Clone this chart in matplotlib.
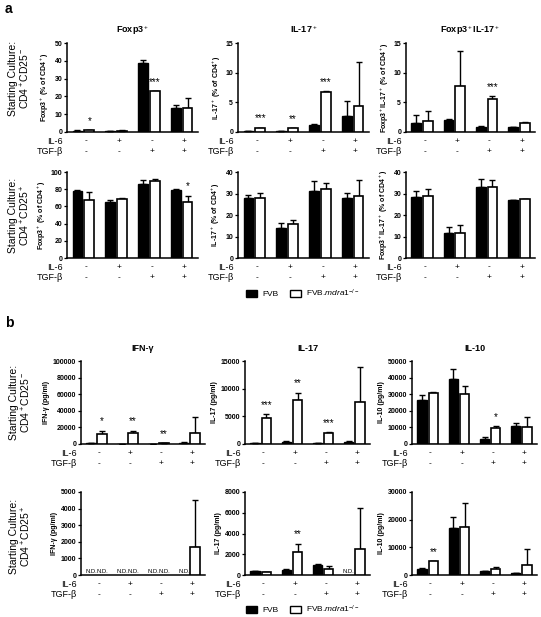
import numpy as np
import matplotlib
matplotlib.use("Agg")
import matplotlib.pyplot as plt
from matplotlib.patches import Patch

plt.rcParams["font.family"] = ["Liberation Sans", "DejaVu Sans"]
plt.rcParams["mathtext.fontset"] = "custom"
plt.rcParams["mathtext.rm"] = "Liberation Sans"
plt.rcParams["mathtext.it"] = "Liberation Sans:italic"
plt.rcParams["mathtext.bf"] = "Liberation Sans:bold"

nan = np.nan

# -------------------------
# Conditions
# -------------------------
il6 = ["-", "+", "-", "+"]
tgfb = ["-", "-", "+", "+"]

# -------------------------
# Panel a, CD4+CD25- start
# -------------------------
foxp3_neg_fvb = [0.8, 0.6, 39.0, 13.3]
foxp3_neg_fvb_err = [0.1, 0.1, 1.5, 2.1]
foxp3_neg_ko = [1.0, 0.8, 23.0, 13.5]
foxp3_neg_ko_err = [0.1, 0.1, 0.1, 5.6]

il17_neg_fvb = [0.15, 0.15, 1.2, 2.7]
il17_neg_fvb_err = [0.02, 0.02, 0.2, 2.5]
il17_neg_ko = [0.7, 0.6, 6.8, 4.4]
il17_neg_ko_err = [0.05, 0.05, 0.05, 7.4]

dp_neg_fvb = [1.5, 2.1, 0.8, 0.8]
dp_neg_fvb_err = [1.3, 0.1, 0.25, 0.05]
dp_neg_ko = [1.8, 7.8, 5.5, 1.6]
dp_neg_ko_err = [1.7, 5.9, 0.5, 0.05]

# -------------------------
# Panel a, CD4+CD25+ start
# -------------------------
foxp3_pos_fvb = [78.0, 64.7, 86.0, 79.0]
foxp3_pos_fvb_err = [1.5, 2.3, 5.0, 1.0]
foxp3_pos_ko = [68.0, 69.0, 90.0, 65.0]
foxp3_pos_ko_err = [8.7, 0.3, 1.5, 7.5]

il17_pos_fvb = [27.7, 14.1, 31.2, 28.0]
il17_pos_fvb_err = [1.7, 2.0, 4.5, 2.4]
il17_pos_ko = [28.0, 15.7, 31.9, 28.9]
il17_pos_ko_err = [2.3, 2.1, 3.2, 7.3]

dp_pos_fvb = [28.5, 11.5, 33.0, 27.2]
dp_pos_fvb_err = [2.5, 2.8, 3.6, 0.0]
dp_pos_ko = [28.9, 11.8, 32.8, 27.4]
dp_pos_ko_err = [3.1, 3.6, 3.4, 0.0]

# -------------------------
# Panel b, CD4+CD25- start (pg/ml)
# -------------------------
ifng_neg_fvb = [1500, 500, 500, 1500]
ifng_neg_fvb_err = [300, 100, 100, 500]
ifng_neg_ko = [12000, 13200, 1200, 13000]
ifng_neg_ko_err = [4000, 2800, 300, 20000]

il17c_neg_fvb = [200, 400, 200, 400]
il17c_neg_fvb_err = [50, 100, 50, 100]
il17c_neg_ko = [4700, 7950, 2050, 7520]
il17c_neg_ko_err = [700, 1350, 150, 6320]

il10_neg_fvb = [26800, 39300, 3000, 10700]
il10_neg_fvb_err = [3000, 6100, 1400, 1800]
il10_neg_ko = [30800, 30200, 9900, 10000]
il10_neg_ko_err = [300, 4800, 800, 6100]

# -------------------------
# Panel b, CD4+CD25+ start (pg/ml), nan = N.D.
# -------------------------
ifng_pos_fvb = [nan, nan, nan, nan]
ifng_pos_fvb_err = [0, 0, 0, 0]
ifng_pos_ko = [nan, nan, nan, 1670]
ifng_pos_ko_err = [0, 0, 0, 2870]

il17c_pos_fvb = [350, 510, 955, nan]
il17c_pos_fvb_err = [30, 60, 100, 0]
il17c_pos_ko = [290, 2170, 570, 2550]
il17c_pos_ko_err = [20, 860, 260, 3920]

il10_pos_fvb = [2300, 17100, 1350, 700]
il10_pos_fvb_err = [200, 4000, 150, 200]
il10_pos_ko = [4900, 17400, 2300, 3700]
il10_pos_ko_err = [200, 8600, 700, 5700]

# significance marks over the knockout bars: (group, text)
stars_foxp3_neg = [(0, "*"), (2, "***")]
stars_il17_neg = [(0, "***"), (1, "**"), (2, "***")]
stars_dp_neg = [(2, "***")]
stars_foxp3_pos = [(3, "*")]
stars_ifng_neg = [(0, "*"), (1, "**"), (2, "**")]
stars_il17c_neg = [(0, "***"), (1, "**"), (2, "***")]
stars_il10_neg = [(2, "*")]
stars_il17c_pos = [(1, "**")]
stars_il10_pos = [(0, "**")]

W, H = 541, 617
fig = plt.figure(figsize=(W / 100, H / 100), dpi=100)


def px_axes(x0, y0, x1, y1):
    return fig.add_axes([x0 / W, 1 - y1 / H, (x1 - x0) / W, (y1 - y0) / H])


def draw_panel(ax, fvb, fvb_err, ko, ko_err, ymax, ystep, ylabel, title=None, stars=()):
    x = np.arange(4)
    fvb = np.array(fvb, dtype=float)
    ko = np.array(ko, dtype=float)
    fvb_err = np.array(fvb_err, dtype=float)
    ko_err = np.array(ko_err, dtype=float)
    off, bw = 0.18, 0.3

    for xs, vals, errs, fc, lw in [(x - off, fvb, fvb_err, "black", 1.0),
                                   (x + off, ko, ko_err, "white", 1.2)]:
        ok = ~np.isnan(vals)
        ax.errorbar(xs[ok], vals[ok], yerr=[np.zeros(ok.sum()), errs[ok]], fmt="none",
                    ecolor="black", elinewidth=1.0, capsize=2.5, capthick=1.0, zorder=2)
        ax.bar(xs[ok], vals[ok], bw, color=fc, edgecolor="black", linewidth=lw, zorder=3)
        for xi in xs[~ok]:
            ax.annotate("N.D.", (xi, 0), xytext=(0, 1), textcoords="offset points",
                        ha="center", va="bottom", fontsize=4.2)

    for g, s in stars:
        ax.annotate(s, (g + off, ko[g] + ko_err[g]), xytext=(0, 3), textcoords="offset points",
                    ha="center", va="bottom", fontsize=7)

    ax.set_xlim(-0.5, 3.5)
    ax.set_ylim(0, ymax)
    ax.set_yticks(np.arange(0, ymax + ystep / 2, ystep))
    ax.set_xticks([])
    for sp in ["top", "right"]:
        ax.spines[sp].set_visible(False)
    for sp in ["left", "bottom"]:
        ax.spines[sp].set_linewidth(1.1)
    ax.tick_params(axis="y", labelsize=5, length=2.5, width=0.9, pad=1)
    for lab in ax.get_yticklabels():
        lab.set_fontweight("bold")
    ax.set_ylabel(ylabel, fontsize=5, fontweight="bold", labelpad=2)
    if title:
        ax.set_title(title, fontsize=6.5, fontweight="bold", pad=7)

    # condition rows under the axis
    for lab, vals, dy in [("IL-6", il6, -6.5), ("TGF-β", tgfb, -14)]:
        ax.annotate(lab, (0, 0), xycoords="axes fraction", xytext=(-3, dy),
                    textcoords="offset points", ha="right", va="center", fontsize=6.5)
        for g, v in enumerate(vals):
            ax.annotate(v, (g, 0), xycoords=("data", "axes fraction"), xytext=(2, dy),
                        textcoords="offset points", ha="center", va="center", fontsize=6)


# panel a
a_cols = [(67, 198), (238, 369), (406, 535)]
ax = px_axes(a_cols[0][0], 43, a_cols[0][1], 132)
draw_panel(ax, foxp3_neg_fvb, foxp3_neg_fvb_err, foxp3_neg_ko, foxp3_neg_ko_err, 50, 10,
           "Foxp3$^+$ (% of CD4$^+$)", "Foxp3$^+$", stars_foxp3_neg)
ax = px_axes(a_cols[1][0], 43, a_cols[1][1], 132)
draw_panel(ax, il17_neg_fvb, il17_neg_fvb_err, il17_neg_ko, il17_neg_ko_err, 15, 5,
           "IL-17$^+$ (% of CD4$^+$)", "IL-17$^+$", stars_il17_neg)
ax = px_axes(a_cols[2][0], 43, a_cols[2][1], 132)
draw_panel(ax, dp_neg_fvb, dp_neg_fvb_err, dp_neg_ko, dp_neg_ko_err, 15, 5,
           "Foxp3$^+$IL-17$^+$ (% of CD4$^+$)", "Foxp3$^+$IL-17$^+$", stars_dp_neg)

ax = px_axes(a_cols[0][0], 172, a_cols[0][1], 258)
draw_panel(ax, foxp3_pos_fvb, foxp3_pos_fvb_err, foxp3_pos_ko, foxp3_pos_ko_err, 100, 20,
           "Foxp3$^+$ (% of CD4$^+$)", stars=stars_foxp3_pos)
ax = px_axes(a_cols[1][0], 172, a_cols[1][1], 258)
draw_panel(ax, il17_pos_fvb, il17_pos_fvb_err, il17_pos_ko, il17_pos_ko_err, 40, 10,
           "IL-17$^+$ (% of CD4$^+$)")
ax = px_axes(a_cols[2][0], 172, a_cols[2][1], 258)
draw_panel(ax, dp_pos_fvb, dp_pos_fvb_err, dp_pos_ko, dp_pos_ko_err, 40, 10,
           "Foxp3$^+$IL-17$^+$ (% of CD4$^+$)")

# panel b
b_cols = [(81, 205), (245, 370), (412, 537)]
ax = px_axes(b_cols[0][0], 361, b_cols[0][1], 444)
draw_panel(ax, ifng_neg_fvb, ifng_neg_fvb_err, ifng_neg_ko, ifng_neg_ko_err, 100000, 20000,
           "IFN-γ (pg/ml)", "IFN-γ", stars_ifng_neg)
ax = px_axes(b_cols[1][0], 361, b_cols[1][1], 444)
draw_panel(ax, il17c_neg_fvb, il17c_neg_fvb_err, il17c_neg_ko, il17c_neg_ko_err, 15000, 5000,
           "IL-17 (pg/ml)", "IL-17", stars_il17c_neg)
ax = px_axes(b_cols[2][0], 361, b_cols[2][1], 444)
draw_panel(ax, il10_neg_fvb, il10_neg_fvb_err, il10_neg_ko, il10_neg_ko_err, 50000, 10000,
           "IL-10 (pg/ml)", "IL-10", stars_il10_neg)

ax = px_axes(b_cols[0][0], 492, b_cols[0][1], 575)
draw_panel(ax, ifng_pos_fvb, ifng_pos_fvb_err, ifng_pos_ko, ifng_pos_ko_err, 5000, 1000,
           "IFN-γ (pg/ml)")
ax = px_axes(b_cols[1][0], 492, b_cols[1][1], 575)
draw_panel(ax, il17c_pos_fvb, il17c_pos_fvb_err, il17c_pos_ko, il17c_pos_ko_err, 8000, 2000,
           "IL-17 (pg/ml)", stars=stars_il17c_pos)
ax = px_axes(b_cols[2][0], 492, b_cols[2][1], 575)
draw_panel(ax, il10_pos_fvb, il10_pos_fvb_err, il10_pos_ko, il10_pos_ko_err, 30000, 10000,
           "IL-10 (pg/ml)", stars=stars_il10_pos)

# row labels and panel letters
row_neg = "Starting Culture:\nCD4$^+$CD25$^-$"
row_pos = "Starting Culture:\nCD4$^+$CD25$^+$"
for (x, y, s) in [(20, 78, row_neg), (20, 215, row_pos), (21, 402, row_neg), (21, 536, row_pos)]:
    fig.text(x / W, 1 - y / H, s, rotation=90, ha="center", va="center",
             fontsize=7.5, multialignment="center", linespacing=1.1)
fig.text(5 / W, 1 - 9 / H, "a", fontsize=10, fontweight="bold", va="center")
fig.text(5 / W, 1 - 323 / H, "b", fontsize=10, fontweight="bold", va="center")

# legends
handles = [Patch(facecolor="black", edgecolor="black"),
           Patch(facecolor="white", edgecolor="black", linewidth=1)]
labels = ["FVB", "FVB.$\\mathit{mdra1}^{-/-}$"]
for y in (293, 609):
    fig.legend(handles, labels, loc="center", bbox_to_anchor=(303 / W, 1 - y / H), ncol=2,
               frameon=False, fontsize=6, handlelength=1.3, handleheight=1.0,
               columnspacing=1.4, handletextpad=0.6)

fig.savefig("out.png", dpi=100)
